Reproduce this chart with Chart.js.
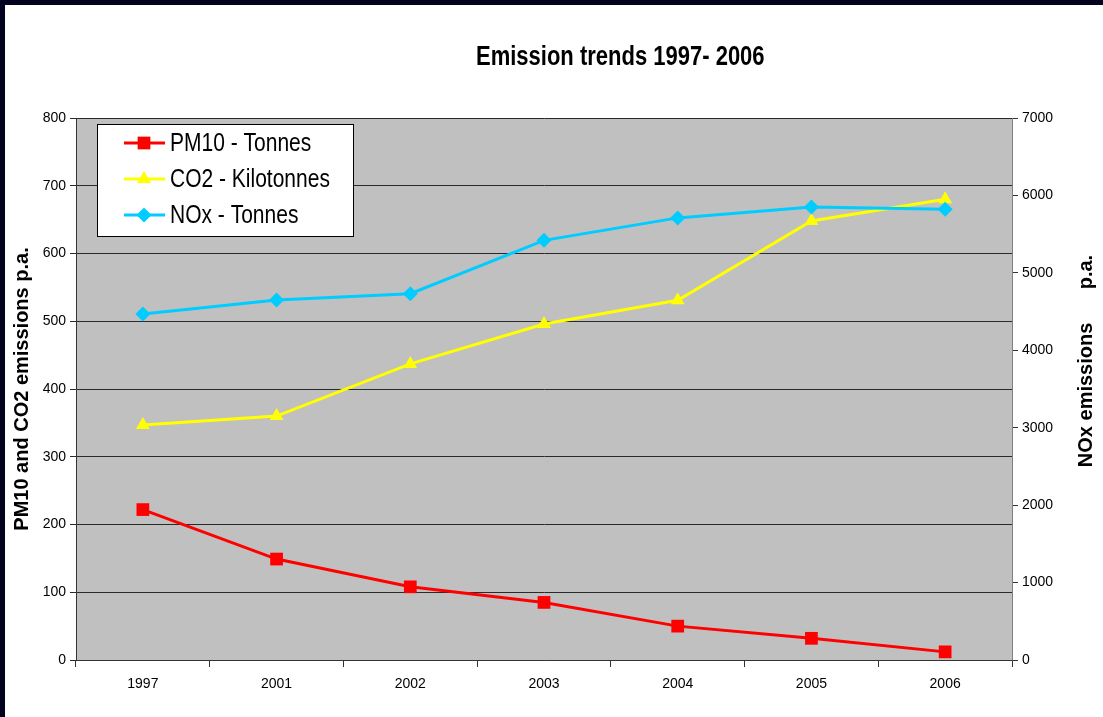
<!DOCTYPE html>
<html lang="en">
<head>
  <meta charset="UTF-8">
  <title>Emission trends 1997- 2006</title>
  <script src="https://cdn.jsdelivr.net/npm/chart.js"></script>
  <style>
    html, body {
      margin: 0;
      padding: 0;
      background-color: #02021e;
      overflow: hidden;
    }
    .frame {
      position: absolute;
      left: 5px;
      top: 5px;
      width: 1098px;
      height: 712px;
      background: #ffffff;
    }
    .title {
      position: absolute;
      left: 471px;
      top: 38px;
      font: bold 22px "Liberation Sans", Arial, sans-serif;
      line-height: 26px;
      color: #000;
      white-space: nowrap;
      transform: scaleY(1.25);
      transform-origin: left center;
    }
    canvas {
      display: block;
    }
  </style>
</head>
<body>
  <div class="frame">
    <div class="title">Emission trends 1997- 2006</div>
    <canvas id="emission-chart" width="1098" height="712"></canvas>
  </div>

  <script>
    const years = ['1997', '2001', '2002', '2003', '2004', '2005', '2006'];
    const pm10Tonnes = [222, 149, 108, 85, 50, 32, 12];
    const co2Kilotonnes = [347, 360, 437, 496, 531, 648, 680];
    const noxTonnes = [4470, 4650, 4730, 5420, 5710, 5850, 5820];

    const fontFamily = '"Liberation Sans", Arial, sans-serif';

    // grey plot area
    const plotBackground = {
      id: 'plotBackground',
      beforeDraw(chart) {
        const { ctx, chartArea } = chart;
        ctx.save();
        ctx.fillStyle = '#c0c0c0';
        ctx.fillRect(chartArea.left, chartArea.top, chartArea.right - chartArea.left, chartArea.bottom - chartArea.top);
        ctx.restore();
      },
      afterDatasetsDraw(chart) {
        const { ctx, chartArea } = chart;
        ctx.save();
        ctx.strokeStyle = '#808080';
        ctx.lineWidth = 1;
        ctx.beginPath();
        ctx.moveTo(chartArea.right + 0.5, chartArea.top);
        ctx.lineTo(chartArea.right + 0.5, chartArea.bottom);
        ctx.stroke();
        ctx.restore();
      }
    };

    // right axis title reads bottom-to-top, which chart.js won't do on its own
    const rightTitle = {
      id: 'rightTitle',
      afterDraw(chart) {
        const { ctx, chartArea } = chart;
        const scale = chart.scales.y2;
        ctx.save();
        ctx.translate(scale.right - 17, (chartArea.top + chartArea.bottom) / 2 - 28);
        ctx.rotate(-Math.PI / 2);
        ctx.fillStyle = '#000000';
        ctx.font = 'bold 20px ' + fontFamily;
        ctx.textAlign = 'center';
        ctx.textBaseline = 'middle';
        ctx.fillText('NOx emissions      p.a.', 0, 0);
        ctx.restore();
      }
    };

    // boxed legend with line + marker icons, like the spreadsheet one
    const boxedLegend = {
      id: 'boxedLegend',
      afterDraw(chart) {
        const { ctx, chartArea } = chart;
        const x = chartArea.left + 21;
        const y = chartArea.top + 6;
        ctx.save();
        ctx.fillStyle = '#ffffff';
        ctx.fillRect(x, y, 256, 112);
        ctx.strokeStyle = '#000000';
        ctx.lineWidth = 1;
        ctx.strokeRect(x + 0.5, y + 0.5, 256, 112);
        chart.data.datasets.forEach((ds, i) => {
          const cy = y + 19 + i * 36;
          ctx.strokeStyle = ds.borderColor;
          ctx.lineWidth = 3;
          ctx.beginPath();
          ctx.moveTo(x + 27, cy);
          ctx.lineTo(x + 68, cy);
          ctx.stroke();
          ctx.fillStyle = ds.backgroundColor;
          Chart.helpers.drawPoint(ctx, {
            pointStyle: ds.pointStyle,
            radius: ds.pointRadius,
            borderWidth: 0
          }, x + 47, cy);
          // text a bit taller than wide, as in the original
          ctx.save();
          ctx.translate(x + 73, cy + 1);
          ctx.scale(1.05, 1.25);
          ctx.fillStyle = '#000000';
          ctx.font = '20px ' + fontFamily;
          ctx.textBaseline = 'middle';
          ctx.textAlign = 'left';
          ctx.fillText(ds.label, 0, 0);
          ctx.restore();
        });
        ctx.restore();
      }
    };

    new Chart(document.getElementById('emission-chart'), {
      type: 'line',
      data: {
        labels: years,
        datasets: [
          {
            label: 'PM10 - Tonnes',
            data: pm10Tonnes,
            yAxisID: 'y',
            borderColor: '#ff0000',
            backgroundColor: '#ff0000',
            pointStyle: 'rect',
            pointRadius: 9,
            order: 3
          },
          {
            label: 'CO2 - Kilotonnes',
            data: co2Kilotonnes,
            yAxisID: 'y',
            borderColor: '#ffff00',
            backgroundColor: '#ffff00',
            pointStyle: 'triangle',
            pointRadius: 8,
            order: 2
          },
          {
            label: 'NOx - Tonnes',
            data: noxTonnes,
            yAxisID: 'y2',
            borderColor: '#00ccff',
            backgroundColor: '#00ccff',
            pointStyle: 'rectRot',
            pointRadius: 7.5,
            order: 1
          }
        ]
      },
      options: {
        responsive: false,
        animation: false,
        events: [],
        layout: { padding: { top: 113, left: 0, right: 0, bottom: 0 } },
        elements: {
          line: { borderWidth: 3, tension: 0 },
          point: { borderWidth: 0, hoverRadius: 9 }
        },
        plugins: {
          legend: { display: false },
          tooltip: { enabled: false }
        },
        scales: {
          x: {
            offset: true,
            grid: {
              offset: true,
              drawOnChartArea: false,
              drawTicks: true,
              tickLength: 7,
              color: '#333333'
            },
            border: { color: '#333333', width: 1 },
            ticks: {
              color: '#000000',
              font: { family: fontFamily, size: 14 },
              padding: 9,
              maxRotation: 0
            },
            afterFit(scale) { scale.height = 57; }
          },
          y: {
            position: 'left',
            min: 0,
            max: 800,
            ticks: {
              stepSize: 100,
              color: '#000000',
              font: { family: fontFamily, size: 14 },
              padding: 4
            },
            grid: {
              color: '#2a2a2a',
              lineWidth: 1,
              drawTicks: true,
              tickLength: 6
            },
            border: { color: '#333333', width: 1 },
            title: {
              display: true,
              text: 'PM10 and CO2 emissions p.a.',
              color: '#000000',
              font: { family: fontFamily, size: 20, weight: 'bold' },
              padding: { top: 5, bottom: 0 }
            },
            afterFit(scale) { scale.width = 71; }
          },
          y2: {
            position: 'right',
            min: 0,
            max: 7000,
            ticks: {
              stepSize: 1000,
              color: '#000000',
              font: { family: fontFamily, size: 14 },
              padding: 4,
              callback: value => String(value)
            },
            grid: {
              drawOnChartArea: false,
              drawTicks: true,
              tickLength: 6,
              color: '#333333'
            },
            border: { color: '#555555', width: 1 },
            afterFit(scale) { scale.width = 91; }
          }
        }
      },
      plugins: [plotBackground, rightTitle, boxedLegend]
    });
  </script>
</body>
</html>
